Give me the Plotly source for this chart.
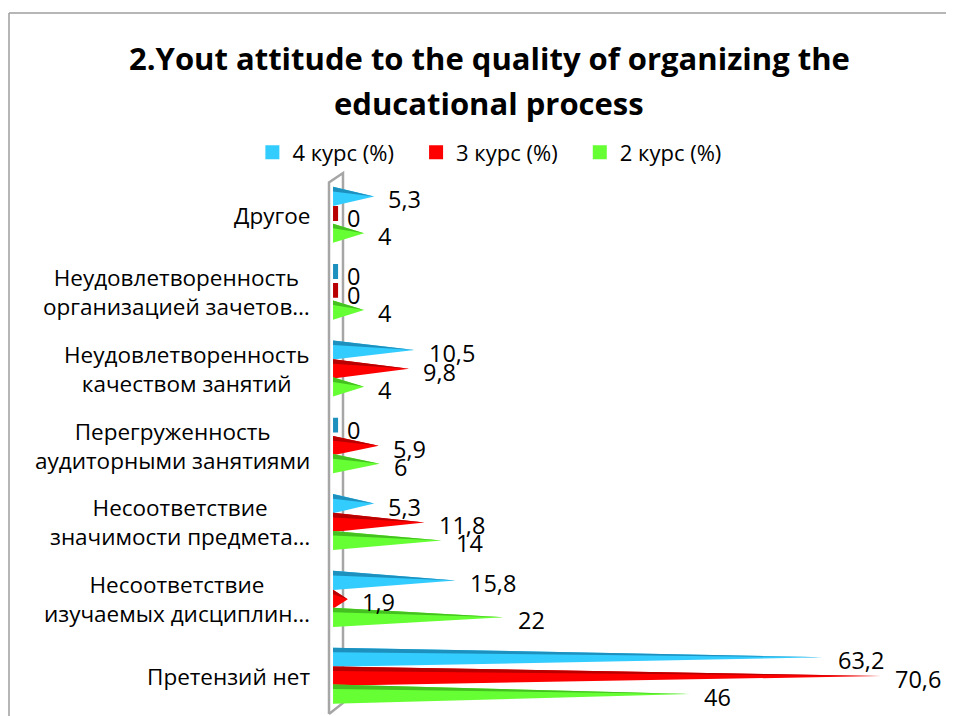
import plotly.graph_objects as go

# ---------------- data ----------------
categories = [
    "Другое",
    "Неудовлетворенность<br>организацией зачетов…",
    "Неудовлетворенность<br>качеством занятий",
    "Перегруженность<br>аудиторными занятиями",
    "Несоответствие<br>значимости предмета…",
    "Несоответствие<br>изучаемых дисциплин…",
    "Претензий нет",
]
series_names = ["4 курс (%)", "3 курс (%)", "2 курс (%)"]
kurs4 = [5.3, 0, 10.5, 0, 5.3, 15.8, 63.2]
kurs3 = [0, 0, 9.8, 5.9, 11.8, 1.9, 70.6]
kurs2 = [4, 4, 4, 6, 14, 22, 46]
title_lines = ["2.Yout attitude to the quality of organizing the", "educational process"]

# ---------------- style ----------------
FONT = "Open Sans"
colors = ["#33CCFF", "#FF0000", "#66FF33"]
dark_colors = ["#1E90BE", "#B80000", "#44C020"]
offsets = [0.245, 0.0, -0.235]   # position of each series inside a group
half = 0.125                      # half bar thickness (category units)

n = len(categories)
positions = [n - 1 - i for i in range(n)]   # top category drawn highest

fig = go.Figure()
annotations = []

for s, (name, vals) in enumerate(zip(series_names, [kurs4, kurs3, kurs2])):
    fx, fy, tx, ty, zx, zy = [], [], [], [], [], []
    for pos, v in zip(positions, vals):
        yc = pos + offsets[s]
        if v > 0:
            # front face of the pyramid
            fx += [0, 0, v, 0, None]
            fy += [yc + half, yc - half, yc, yc + half, None]
            # darker top face
            tx += [0, 0, v, 0, None]
            ty += [yc + half, yc + half - 0.06, yc, yc + half, None]
        else:
            zx += [0, 0, 0.65, 0.65, 0, None]
            zy += [yc + half * 0.95, yc - half * 0.6, yc - half * 0.6, yc + half * 0.95, yc + half * 0.95, None]
        annotations.append(dict(
            x=v, y=yc, xref="x", yref="y", text=f"{v:g}".replace(".", ","),
            showarrow=False, xanchor="left", yanchor="middle", xshift=12, yshift=-3,
            font=dict(family=FONT, size=23.5, color="#000000"),
        ))
    fig.add_trace(go.Scatter(x=fx, y=fy, fill="toself", mode="lines", line=dict(width=0),
                             fillcolor=colors[s], showlegend=False, hoverinfo="skip"))
    fig.add_trace(go.Scatter(x=tx, y=ty, fill="toself", mode="lines", line=dict(width=0),
                             fillcolor=dark_colors[s], showlegend=False, hoverinfo="skip"))
    if zx:
        fig.add_trace(go.Scatter(x=zx, y=zy, fill="toself", mode="lines", line=dict(width=0),
                                 fillcolor=dark_colors[s], showlegend=False, hoverinfo="skip"))
    # legend entry
    fig.add_trace(go.Scatter(x=[None], y=[None], mode="markers", name=name + "\u00a0\u00a0\u00a0",
                             marker=dict(symbol="square", size=14, color=colors[s])))

# category labels
for pos, cat in zip(positions, categories):
    annotations.append(dict(
        x=-0.027, y=pos, xref="paper", yref="y", text=cat, showarrow=False,
        xanchor="right", yanchor="middle", align="center",
        font=dict(family=FONT, size=22.5, color="#000000"),
    ))

# title (two lines, Excel-like spacing)
for line, ty_ in zip(title_lines, [1.2096, 1.1268]):
    annotations.append(dict(
        x=0.256, y=ty_, xref="paper", yref="paper", text=f"<b>{line}</b>", showarrow=False,
        xanchor="center", yanchor="middle",
        font=dict(family=FONT, size=31, color="#000000"),
    ))

# 3D wall along the category axis and chart border (decoration)
shapes = [
    dict(type="path", xref="paper", yref="paper",
         path="M 0,0.0037 L 0,0.981 L 0.0224,0.9982 L 0.0224,0.0239 L 0,0.0037",
         line=dict(color="#A6A6A6", width=2.5), fillcolor="rgba(255,255,255,0)", layer="below"),
    dict(type="line", xref="paper", yref="paper", x0=-0.512, x1=1.05, y0=1.2923, y1=1.2923,
         line=dict(color="#9E9E9E", width=1.5)),
    dict(type="line", xref="paper", yref="paper", x0=-0.512, x1=-0.512, y0=-0.05, y1=1.2923,
         line=dict(color="#9E9E9E", width=1.5)),
]

fig.update_layout(
    width=954, height=716,
    margin=dict(l=321, r=8, t=164, b=8),
    paper_bgcolor="white", plot_bgcolor="rgba(0,0,0,0)",
    legend=dict(orientation="h", x=0.271, xanchor="center", y=1.036, yanchor="middle",
                font=dict(family=FONT, size=22, color="#000000"),
                itemwidth=30, tracegroupgap=0, bgcolor="rgba(0,0,0,0)"),
    xaxis=dict(range=[-0.52, 80], visible=False, fixedrange=True),
    yaxis=dict(range=[-0.52, 6.5625], visible=False, fixedrange=True),
    annotations=annotations,
    shapes=shapes,
    showlegend=True,
)

fig.write_html("out.html")
